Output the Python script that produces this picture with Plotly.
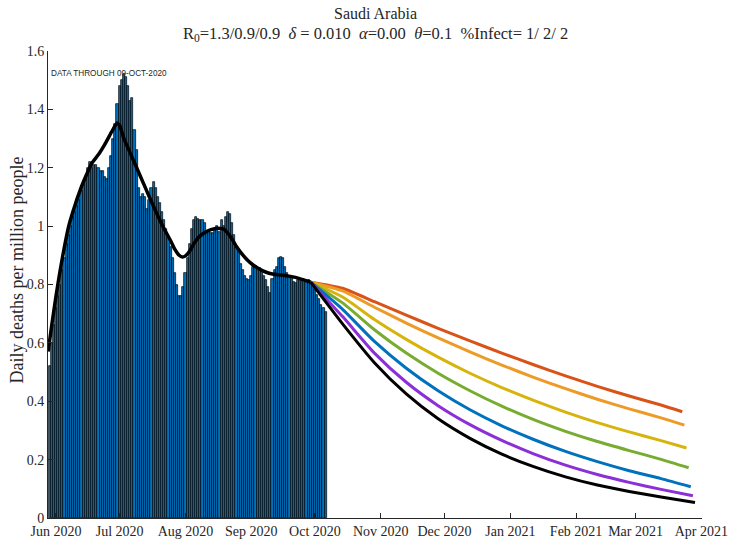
import pandas as pd
import plotly.graph_objects as go

# ---------------- data ----------------
base_date = "2020-06-01"
bar_first_date = "2020-05-29"
bar_vals = [
    0.52, 0.60, 0.66, 0.72, 0.76, 0.80, 0.85, 0.89, 0.94, 0.97,
    1.00, 1.03, 1.05, 1.07, 1.09, 1.12, 1.15, 1.17, 1.20, 1.22,
    1.20, 1.21, 1.21, 1.20, 1.19, 1.19, 1.17, 1.16, 1.20, 1.24,
    1.30, 1.35, 1.42, 1.48, 1.50, 1.52, 1.51, 1.48, 1.43, 1.44,
    1.33, 1.26, 1.13, 1.10, 1.11, 1.10, 1.06, 1.09, 1.13, 1.15,
    1.13, 1.10, 1.08, 1.05, 1.02, 0.99, 0.96, 0.93, 0.89, 0.84,
    0.80, 0.76, 0.76, 0.79, 0.84, 0.89, 0.94, 0.99, 1.02, 1.03,
    1.025, 1.02, 1.02, 1.01, 0.98, 0.98, 0.975, 0.975, 0.99, 1.00,
    0.98, 1.02, 1.00, 1.03, 1.05, 1.04, 1.01, 0.97, 0.93, 0.91,
    0.87, 0.85, 0.83, 0.82, 0.815, 0.83, 0.86, 0.865, 0.856, 0.856,
    0.845, 0.83, 0.815, 0.79, 0.77, 0.82, 0.85, 0.86, 0.89, 0.895,
    0.89, 0.86, 0.84, 0.83, 0.826, 0.81, 0.805, 0.815, 0.82, 0.81,
    0.815, 0.81, 0.815, 0.81, 0.805, 0.78, 0.765, 0.75, 0.73, 0.72,
    0.705,
]

# smoothed fit (days after 1 Jun 2020)
fit_days = [-3.7, -2, 0, 2, 4, 6, 8, 10, 12, 14, 16.9, 20, 23, 26, 28.7, 30,
            32, 35, 38, 41, 44, 45.2, 48, 51, 54, 56, 58, 59.5, 61, 63, 65, 67,
            70, 73, 76, 79, 81, 83, 85, 87, 90, 93, 96, 99, 102, 105, 108, 111,
            114, 117, 120]
fit_vals = [0.57, 0.66, 0.76, 0.85, 0.93, 1.00, 1.05, 1.095, 1.135, 1.17, 1.216,
            1.245, 1.28, 1.32, 1.353, 1.345, 1.30, 1.25, 1.20, 1.15, 1.10, 1.08,
            1.035, 0.99, 0.95, 0.92, 0.90, 0.894, 0.898, 0.915, 0.94, 0.96,
            0.978, 0.988, 0.993, 0.99, 0.975, 0.955, 0.93, 0.91, 0.885, 0.866,
            0.852, 0.842, 0.836, 0.833, 0.831, 0.827, 0.822, 0.815, 0.808]

# projections (days after 1 Jun 2020)
proj_days = [120, 135, 150, 165, 180, 195, 210, 225, 240, 255, 270, 285]
proj_end_days = [295, 296, 297, 298, 299, 300, 301]
proj_red = [0.808, 0.787, 0.741, 0.695, 0.650, 0.607, 0.565, 0.525, 0.487, 0.451, 0.418, 0.387, 0.364]
proj_orange = [0.808, 0.778, 0.722, 0.668, 0.617, 0.569, 0.524, 0.482, 0.443, 0.407, 0.374, 0.343, 0.318]
proj_yellow = [0.808, 0.757, 0.680, 0.612, 0.551, 0.496, 0.447, 0.403, 0.363, 0.327, 0.295, 0.265, 0.240]
proj_green = [0.808, 0.737, 0.645, 0.565, 0.496, 0.436, 0.383, 0.337, 0.297, 0.262, 0.231, 0.201, 0.172]
proj_blue = [0.808, 0.715, 0.605, 0.513, 0.436, 0.371, 0.316, 0.269, 0.228, 0.193, 0.162, 0.135, 0.107]
proj_purple = [0.808, 0.69, 0.565, 0.465, 0.385, 0.32, 0.266, 0.22, 0.181, 0.149, 0.122, 0.098, 0.076]
proj_black = [0.808, 0.665, 0.532, 0.425, 0.34, 0.273, 0.219, 0.176, 0.141, 0.113, 0.091, 0.072, 0.053]
proj_vals = [proj_red, proj_orange, proj_yellow, proj_green, proj_blue, proj_purple, proj_black]
proj_colors = ["#D95319", "#EE9A26", "#D6B40C", "#77AC30", "#0072BD", "#8B2FD6", "#000000"]

month_ticks = ["2020-06-01", "2020-07-01", "2020-08-01", "2020-09-01", "2020-10-01",
               "2020-11-01", "2020-12-01", "2021-01-01", "2021-02-01", "2021-03-01",
               "2021-04-01"]
month_labels = ["Jun 2020", "Jul 2020", "Aug 2020", "Sep 2020", "Oct 2020", "Nov 2020",
                "Dec 2020", "Jan 2021", "Feb 2021", "Mar 2021", "Apr 2021"]

# ---------------- figure ----------------
base = pd.Timestamp(base_date)


def to_date(d):
    return base + pd.Timedelta(days=d)


bar_dates = pd.date_range(bar_first_date, periods=len(bar_vals), freq="D")

fig = go.Figure()
fig.add_trace(go.Bar(
    x=bar_dates, y=bar_vals, width=86400000,
    marker=dict(color="#0072BD", line=dict(color="#000000", width=0.7)),
    showlegend=False, hoverinfo="skip"))

fig.add_trace(go.Scatter(
    x=[to_date(d) for d in fit_days], y=fit_vals, mode="lines",
    line=dict(color="#000000", width=3.5, shape="spline", smoothing=0.4),
    showlegend=False))

for vals, endd, col in zip(proj_vals, proj_end_days, proj_colors):
    days = proj_days + [endd]
    fig.add_trace(go.Scatter(
        x=[to_date(d) for d in days], y=vals, mode="lines",
        line=dict(color=col, width=3, shape="spline", smoothing=0.6),
        showlegend=False))

serif = "Liberation Serif, Times New Roman, serif"
axcol = "#262626"

fig.update_layout(
    width=730, height=540,
    margin=dict(l=48, r=28, t=51, b=22),
    paper_bgcolor="white", plot_bgcolor="white",
    bargap=0, template="none",
    font=dict(family=serif, size=14, color=axcol),
    xaxis=dict(
        type="date",
        range=[to_date(-3.76), to_date(304.3)],
        tickvals=month_ticks, ticktext=month_labels,
        ticks="inside", ticklen=5, tickcolor=axcol, tickwidth=1,
        showline=True, linecolor=axcol, linewidth=1,
        showgrid=False, zeroline=False, automargin=False,
        tickfont=dict(family=serif, size=14, color=axcol),
    ),
    yaxis=dict(
        range=[0, 1.6], tickvals=[0, 0.2, 0.4, 0.6, 0.8, 1.0, 1.2, 1.4, 1.6],
        ticktext=["0", "0.2", "0.4", "0.6", "0.8", "1", "1.2", "1.4", "1.6"],
        ticks="inside", ticklen=5, tickcolor=axcol, tickwidth=1,
        showline=True, linecolor=axcol, linewidth=1,
        showgrid=False, zeroline=False, automargin=False,
        tickfont=dict(family=serif, size=14, color=axcol),
    ),
)

fig.add_annotation(xref="paper", yref="paper", x=0.5, y=1 + 38 / 467,
                   text="Saudi Arabia", showarrow=False, xanchor="center", yanchor="middle",
                   font=dict(family=serif, size=16, color=axcol))
fig.add_annotation(xref="paper", yref="paper", x=0.5, y=1 + 17 / 467,
                   text="R<sub>0</sub>=1.3/0.9/0.9&nbsp;&nbsp;<i>δ</i> = 0.010&nbsp;&nbsp;<i>α</i>=0.00&nbsp;&nbsp;<i>θ</i>=0.1&nbsp;&nbsp;%Infect= 1/ 2/ 2",
                   showarrow=False, xanchor="center", yanchor="middle",
                   font=dict(family=serif, size=16.5, color=axcol))
fig.add_annotation(xref="paper", yref="paper", x=-31 / 654, y=0.53,
                   text="Daily deaths per million people", textangle=-90, showarrow=False,
                   xanchor="center", yanchor="middle",
                   font=dict(family=serif, size=18, color=axcol))
fig.add_annotation(xref="paper", yref="paper", x=1 / 654, y=(518 - 73) / 467,
                   text="DATA THROUGH 09-OCT-2020", showarrow=False,
                   xanchor="left", yanchor="middle",
                   font=dict(family="Liberation Sans, Arial, sans-serif", size=8.2, color=axcol))

fig.write_html("out.html", config={"displayModeBar": False},
               post_script="document.body.style.margin='0';document.body.style.overflow='hidden';")
